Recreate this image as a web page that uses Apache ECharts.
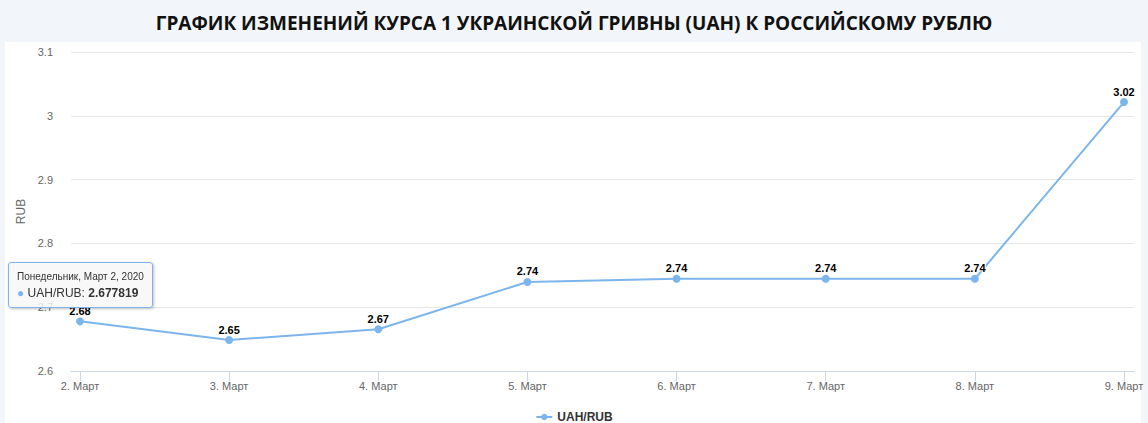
<!DOCTYPE html>
<html>
<head>
<meta charset="utf-8">
<script src="https://cdn.jsdelivr.net/npm/echarts@6/dist/echarts.min.js"></script>
<style>
  html, body { margin: 0; padding: 0; width: 1148px; height: 423px; background: #f2f5f9; overflow: hidden; }
  #title { position: absolute; left: 0; top: 0; width: 1148px; height: 42px; line-height: 46px; text-align: center;
    font-family: "Open Sans", "Noto Sans", sans-serif; font-weight: 700; font-size: 19px; color: #111; }
  #panel { position: absolute; left: 5px; top: 42px; width: 1136px; height: 381px; background: #fff; }
  #chart { position: absolute; left: 0; top: 0; width: 1148px; height: 423px; }
</style>
</head>
<body>
<div id="title">ГРАФИК ИЗМЕНЕНИЙ КУРСА 1 УКРАИНСКОЙ ГРИВНЫ (UAH) К РОССИЙСКОМУ РУБЛЮ</div>
<div id="panel"></div>
<div id="chart"></div>
<script>
const categories = ["2. Март", "3. Март", "4. Март", "5. Март", "6. Март", "7. Март", "8. Март", "9. Март"];
const tooltipDates = ["Понедельник, Март 2, 2020", "Вторник, Март 3, 2020", "Среда, Март 4, 2020", "Четверг, Март 5, 2020",
  "Пятница, Март 6, 2020", "Суббота, Март 7, 2020", "Воскресенье, Март 8, 2020", "Понедельник, Март 9, 2020"];
const seriesName = "UAH/RUB";
const rates = [2.677819, 2.6485, 2.6655, 2.7395, 2.7445, 2.7445, 2.7445, 3.0215];
const yTicks = [2.6, 2.7, 2.8, 2.9, 3.0, 3.1];

const FONT = '"Liberation Sans", Arial, sans-serif';
const COLOR = '#7cb5ec';
const idx = categories.map((_, i) => i);

const chart = echarts.init(document.getElementById('chart'), null, { renderer: 'svg' });
chart.setOption({
  animation: false,
  textStyle: { fontFamily: FONT },
  grid: { left: 71, right: 14, top: 52, bottom: 52 },
  xAxis: {
    type: 'value',
    min: -0.0603,
    max: 7.067,
    splitLine: { show: false },
    axisLine: { show: true, lineStyle: { color: '#ccd6eb', width: 1 } },
    axisTick: { show: true, customValues: idx, length: 10, lineStyle: { color: '#ccd6eb' } },
    axisLabel: { customValues: idx, formatter: v => categories[Math.round(v)], color: '#666', fontSize: 11, margin: 9, fontFamily: FONT }
  },
  yAxis: {
    type: 'value',
    min: yTicks[0],
    max: yTicks[yTicks.length - 1],
    interval: 0.1,
    name: 'RUB',
    nameLocation: 'middle',
    nameGap: 34,
    nameRotate: 90,
    nameTextStyle: { color: '#666', fontSize: 12, fontFamily: FONT },
    axisLine: { show: false },
    axisTick: { show: false },
    axisLabel: { color: '#666', fontSize: 11, margin: 18, fontFamily: FONT, formatter: v => String(parseFloat(v.toFixed(2))) },
    splitLine: { lineStyle: { color: '#e6e6e6' } }
  },
  legend: {
    top: 406,
    left: 'center',
    itemWidth: 16,
    itemHeight: 8,
    textStyle: { color: '#333', fontWeight: 'bold', fontSize: 12, fontFamily: FONT },
    data: [seriesName]
  },
  tooltip: {
    trigger: 'item',
    triggerOn: 'none',
    alwaysShowContent: true,
    position: [8, 262],
    backgroundColor: 'rgba(247,247,247,0.85)',
    borderColor: COLOR,
    borderWidth: 1,
    borderRadius: 3,
    padding: [6, 8, 6, 8],
    extraCssText: 'box-shadow: 1px 1px 3px rgba(0,0,0,0.25);',
    formatter: p => '<div style="font-family:' + FONT.replace(/"/g, "'") + ';color:#333;line-height:16px;">' +
      '<div style="font-size:10px;">' + tooltipDates[p.dataIndex] + '</div>' +
      '<div style="font-size:12px;"><span style="color:' + COLOR + ';">●</span> ' + seriesName + ': <b>' + p.value[1] + '</b></div></div>'
  },
  series: [{
    name: seriesName,
    type: 'line',
    data: rates.map((v, i) => [i, v]),
    symbol: 'circle',
    symbolSize: 8,
    lineStyle: { color: COLOR, width: 2 },
    itemStyle: { color: COLOR },
    label: {
      show: true,
      position: 'top',
      distance: 1,
      formatter: p => p.value[1].toFixed(2),
      color: '#000',
      fontWeight: 'bold',
      fontSize: 11,
      fontFamily: FONT,
      textBorderColor: '#fff',
      textBorderWidth: 2
    }
  }]
});
chart.dispatchAction({ type: 'showTip', seriesIndex: 0, dataIndex: 0 });
</script>
</body>
</html>
